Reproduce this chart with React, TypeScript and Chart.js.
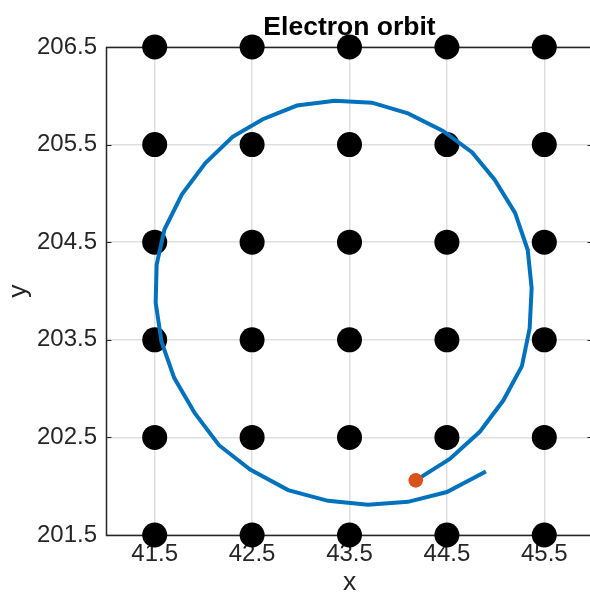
import { useEffect, useRef } from 'react';
import { Chart, registerables } from 'chart.js';

Chart.register(...registerables);

const xTickValues = [41.5, 42.5, 43.5, 44.5, 45.5];
const yTickValues = [201.5, 202.5, 203.5, 204.5, 205.5, 206.5];

const latticeX = [41.5, 42.5, 43.5, 44.5, 45.5];
const latticeY = [201.5, 202.5, 203.5, 204.5, 205.5, 206.5];

const orbitX = [
  44.18, 44.53, 44.84, 45.08, 45.27, 45.35, 45.37, 45.33, 45.2, 44.99, 44.76,
  44.46, 44.1, 43.73, 43.35, 42.96, 42.61, 42.3, 42.02, 41.78, 41.6, 41.52,
  41.51, 41.57, 41.7, 41.91, 42.16, 42.48, 42.87, 43.28, 43.69, 44.1, 44.5, 44.9,
];
const orbitY = [
  202.06, 202.28, 202.56, 202.88, 203.23, 203.62, 204.03, 204.42, 204.8, 205.14,
  205.42, 205.64, 205.82, 205.93, 205.95, 205.9, 205.76, 205.58, 205.31, 204.99,
  204.63, 204.27, 203.88, 203.48, 203.11, 202.75, 202.42, 202.17, 201.96, 201.85,
  201.81, 201.84, 201.94, 202.15,
];

const electronX = [44.18];
const electronY = [202.06];

const titleText = 'Electron orbit';
const xLabel = 'x';
const yLabel = 'y';

const FONT = '"Liberation Sans", Arial, Helvetica, sans-serif';
const AX = '#262626';
const GRID = 'rgba(38,38,38,0.15)';

export default function App() {
  const ref = useRef<HTMLCanvasElement>(null);

  useEffect(() => {
    const canvas = ref.current;
    if (!canvas) return;

    const lattice: { x: number; y: number }[] = [];
    for (const y of latticeY) for (const x of latticeX) lattice.push({ x, y });
    const orbit = orbitX.map((x, i) => ({ x, y: orbitY[i] }));
    const electron = electronX.map((x, i) => ({ x, y: electronY[i] }));

    const boxPlugin = {
      id: 'matlabBox',
      beforeDatasetsDraw(chart: any) {
        const { ctx, chartArea: a, scales } = chart;
        ctx.save();
        ctx.strokeStyle = AX;
        ctx.lineWidth = 1.5;
        ctx.strokeRect(a.left + 0.5, a.top + 0.5, a.right - a.left, a.bottom - a.top);
        ctx.lineWidth = 1;
        const tl = 5.5;
        ctx.beginPath();
        for (const v of xTickValues) {
          const px = Math.round(scales.x.getPixelForValue(v)) + 0.5;
          ctx.moveTo(px, a.bottom);
          ctx.lineTo(px, a.bottom - tl);
          ctx.moveTo(px, a.top);
          ctx.lineTo(px, a.top + tl);
        }
        for (const v of yTickValues) {
          const py = Math.round(scales.y.getPixelForValue(v)) + 0.5;
          ctx.moveTo(a.left, py);
          ctx.lineTo(a.left + tl, py);
          ctx.moveTo(a.right, py);
          ctx.lineTo(a.right - tl, py);
        }
        ctx.stroke();
        ctx.restore();
      },
      afterDraw(chart: any) {
        const { ctx, chartArea: a } = chart;
        const cx = (a.left + a.right) / 2;
        const cy = (a.top + a.bottom) / 2;
        ctx.save();
        ctx.fillStyle = '#000';
        ctx.textAlign = 'center';
        ctx.textBaseline = 'alphabetic';
        ctx.font = `bold 26.5px ${FONT}`;
        ctx.fillText(titleText, cx, 34.5);
        ctx.fillStyle = AX;
        ctx.font = `26.5px ${FONT}`;
        ctx.fillText(xLabel, cx, 589.5);
        ctx.translate(26, cy);
        ctx.rotate(-Math.PI / 2);
        ctx.fillText(yLabel, 0, 0);
        ctx.restore();
      },
    };

    const chart = new Chart(canvas, {
      type: 'scatter',
      data: {
        datasets: [
          {
            data: electron,
            pointRadius: 7.3,
            pointHoverRadius: 7.3,
            backgroundColor: '#D95319',
            borderWidth: 0,
            pointBorderWidth: 0,
            order: 0,
            clip: false,
          } as any,
          {
            data: orbit,
            showLine: true,
            pointRadius: 0,
            pointHoverRadius: 0,
            borderColor: '#0072BD',
            borderWidth: 4,
            tension: 0,
            borderJoinStyle: 'miter',
            order: 1,
            clip: false,
          } as any,
          {
            data: lattice,
            pointRadius: 12.5,
            pointHoverRadius: 12.5,
            backgroundColor: '#000000',
            borderWidth: 0,
            pointBorderWidth: 0,
            order: 2,
            clip: false,
          } as any,
        ],
      },
      options: {
        animation: false,
        responsive: false,
        devicePixelRatio: 1,
        events: [],
        layout: { padding: { top: 47, right: 27, left: 0, bottom: 0 } },
        plugins: {
          legend: { display: false },
          title: { display: false },
          tooltip: { enabled: false },
        },
        scales: {
          x: {
            type: 'linear',
            min: 41,
            max: 46,
            afterBuildTicks: (s: any) => {
              s.ticks = xTickValues.map((v) => ({ value: v }));
            },
            afterFit: (s: any) => {
              s.height = 57;
            },
            grid: { color: GRID, lineWidth: 1.5, drawTicks: false },
            border: { display: false },
            ticks: {
              autoSkip: false,
              maxRotation: 0,
              padding: 5,
              color: AX,
              font: { family: FONT, size: 24 },
              callback: (v: any) => Number(v).toFixed(1),
            },
          },
          y: {
            type: 'linear',
            min: 201.5,
            max: 206.5,
            afterBuildTicks: (s: any) => {
              s.ticks = yTickValues.map((v) => ({ value: v }));
            },
            afterFit: (s: any) => {
              s.width = 106;
            },
            grid: { color: GRID, lineWidth: 1.5, drawTicks: false },
            border: { display: false },
            ticks: {
              autoSkip: false,
              padding: 9,
              color: AX,
              font: { family: FONT, size: 24 },
              callback: (v: any) => Number(v).toFixed(1),
            },
          },
        },
      } as any,
      plugins: [boxPlugin],
    });

    return () => chart.destroy();
  }, []);

  return (
    <div
      style={{
        position: 'absolute',
        left: 0,
        top: 0,
        width: 590,
        height: 592,
        overflow: 'hidden',
        background: '#fff',
      }}
    >
      <canvas ref={ref} width={620} height={592} style={{ display: 'block' }} />
    </div>
  );
}
